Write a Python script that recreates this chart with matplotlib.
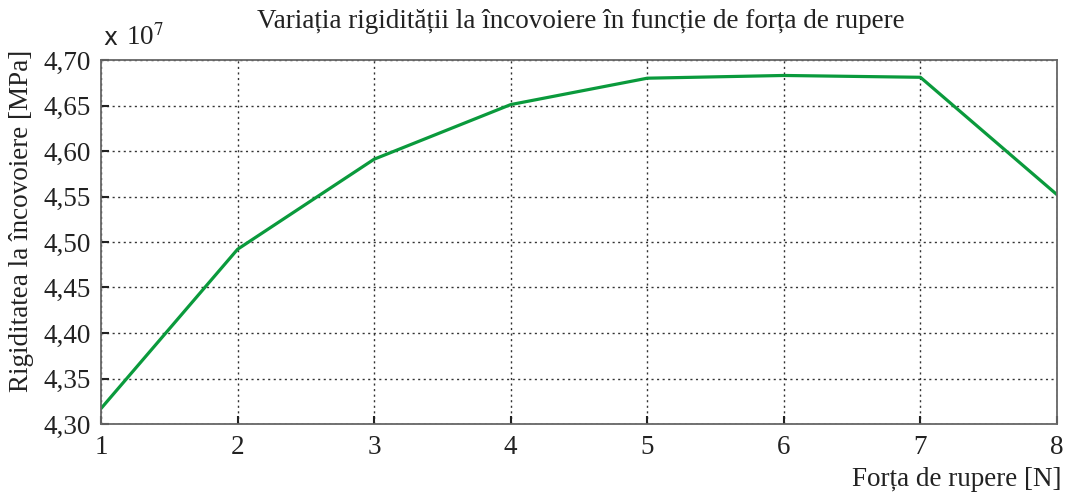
import numpy as np
import matplotlib.pyplot as plt

plt.rcParams['font.family'] = ['Liberation Serif', 'DejaVu Serif']
plt.rcParams['mathtext.fontset'] = 'stix'

# forta de rupere [N] si rigiditatea [MPa] (x 1e7)
forta = [1, 2, 3, 4, 5, 6, 7, 8]
rigiditate = [4.317, 4.492, 4.591, 4.651, 4.680, 4.683, 4.681, 4.552]
yticks = [4.30, 4.35, 4.40, 4.45, 4.50, 4.55, 4.60, 4.65, 4.70]

fig = plt.figure(figsize=(10.67, 4.97), dpi=100)
ax = fig.add_axes([101 / 1067, 1 - 424 / 497, 956 / 1067, 364 / 497])

ax.plot(forta, rigiditate, color='#0a9a3c', linewidth=2.3)

ax.set_xlim(1, 8)
ax.set_ylim(4.30, 4.70)
ax.set_xticks(forta)
ax.set_yticks(yticks)
ax.set_yticklabels([f"{v:.2f}".replace('.', ',') for v in yticks])
ax.tick_params(direction='in', length=6, width=1.5, labelsize=19.5, pad=7, colors='#222222')
ax.tick_params(axis='x', pad=8)
ax.grid(True, linestyle=(0, (1.5, 2.5)), color='#333333', linewidth=1)
for s in ax.spines.values():
    s.set_color('#666666')
    s.set_linewidth(1.3)

# eticheta de scara
fig.text(103 / 1067, 1 - 45 / 497, 'x', ha='left', va='baseline', fontsize=17,
         family=['DejaVu Sans'], color='#222222')
fig.text(126 / 1067, 1 - 45 / 497, r'10$^7$', ha='left', va='baseline', fontsize=19.5,
         color='#222222')
fig.text(581 / 1067, 1 - 22 / 497, "Variația rigidității la încovoiere în funcție de forța de rupere",
         ha='center', va='center', fontsize=19.5, color='#222222')
fig.text(22 / 1067, 1 - 221 / 497, "Rigiditatea la încovoiere [MPa]", rotation=90,
         ha='center', va='center', fontsize=19.5, color='#222222')
fig.text(1062 / 1067, 1 - 479 / 497, "Forța de rupere [N]", ha='right', va='center',
         fontsize=19.5, color='#222222')

fig.savefig('out.png', dpi=100)
